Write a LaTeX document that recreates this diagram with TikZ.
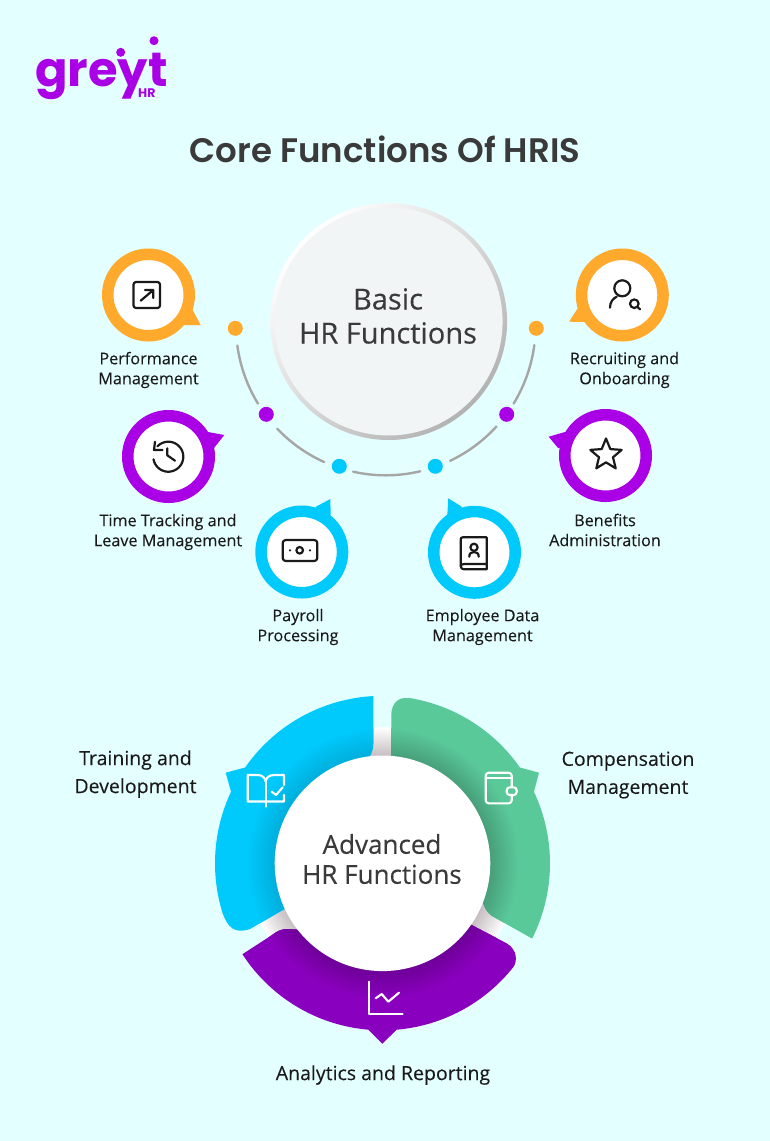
\documentclass[tikz,border=0pt]{standalone}
\usepackage{fontspec}
\setmainfont{Open Sans}
\newfontfamily\headfont{Open Sans}[FakeBold=0.25]
\newfontfamily\labelfont{Open Sans}[FakeBold=0.1]
\newfontfamily\titlefont{Poppins SemiBold}
\newfontfamily\logofont{Poppins}
\usetikzlibrary{shapes.geometric}
\definecolor{bgc}{HTML}{E3FFFF}
\definecolor{orangec}{HTML}{FFA92D}
\definecolor{violetc}{HTML}{A900E6}
\definecolor{cyanc}{HTML}{00C9FB}
\definecolor{greenc}{HTML}{5AC99A}
\definecolor{deepc}{HTML}{8A00BF}
\definecolor{inkc}{HTML}{1A1A1A}
\definecolor{headc}{HTML}{3A3A3A}
\definecolor{gapdark}{HTML}{C6BEC2}
\definecolor{cyandark}{HTML}{00AEDC}
\definecolor{greendark}{HTML}{479F7A}
\definecolor{deepdark}{HTML}{6E0098}
\pgfdeclareradialshading{gapshade}{\pgfpoint{0bp}{0bp}}{color(0bp)=(gapdark); color(19.8bp)=(gapdark); color(25bp)=(white); color(50bp)=(white)}
\pgfdeclareradialshading{cyanshade}{\pgfpoint{0bp}{0bp}}{color(0bp)=(cyandark); color(19.8bp)=(cyandark); color(25bp)=(cyanc); color(50bp)=(cyanc)}
\pgfdeclareradialshading{greenshade}{\pgfpoint{0bp}{0bp}}{color(0bp)=(greendark); color(19.8bp)=(greendark); color(25bp)=(greenc); color(50bp)=(greenc)}
\pgfdeclareradialshading{deepshade}{\pgfpoint{0bp}{0bp}}{color(0bp)=(deepdark); color(19.8bp)=(deepdark); color(25bp)=(deepc); color(50bp)=(deepc)}
\tikzset{
  badge/.style={circle,draw=#1,fill=white,line width=11.5pt,minimum size=81.5pt,inner sep=0pt},
  dotnode/.style={circle,fill=#1,minimum size=15pt,inner sep=0pt,outer sep=0pt},
  lab/.style={align=center,text=inkc,font=\labelfont\fontsize{16.2}{20}\selectfont,inner sep=0pt},
  biglab/.style={align=center,text=inkc,font=\labelfont\fontsize{19.5}{28}\selectfont,inner sep=0pt},
  icon/.style={draw=inkc,line width=2.2pt,line cap=round,line join=round},
  wicon/.style={draw=white,line width=2.1pt,line cap=round,line join=round},
  arcline/.style={draw=black!35,line width=2.4pt,line cap=round},
}
\def\cyansector{(373.3,696) -- plot[domain=266.9:214.9,samples=40] ({382.5+167.5*cos(\x)},{863.3+167.5*sin(\x)}) -- (225.7,772.7) -- plot[domain=205.3:162.7,samples=40] ({382.5+167.5*cos(\x)},{863.3+167.5*sin(\x)}) .. controls (228,928) and (235,934) .. (250,929) -- (300,900) -- (366,760) .. controls (370,757) and (373.3,752) .. (373.3,743) -- cycle}
\def\greensector{(391.3,760) -- (391.3,715) .. controls (391.3,703) and (399,696.5) .. (408.3,698.3) -- plot[domain=278.9:325.1,samples=40] ({382.5+167.5*cos(\x)},{863.3+167.5*sin(\x)}) -- (539,772.7) -- plot[domain=334.7:386.7,samples=40] ({382.5+167.5*cos(\x)},{863.3+167.5*sin(\x)}) -- (492,916) .. controls (488,913.5) and (485,909) .. (483,903) -- (440,800) -- cycle}
\def\deepsector{(242.3,954.3) -- plot[domain=147:94.9,samples=40] ({382.5+167*cos(\x)},{863.3+167*sin(\x)}) -- (382.3,1043.7) -- plot[domain=85.1:38.3,samples=40] ({382.5+167*cos(\x)},{863.3+167*sin(\x)}) .. controls (517,962) and (518,950) .. (506.7,943.3) -- (471.7,925) -- (382,880) -- (305,930) -- (288,929) .. controls (281,928.5) and (276,932) .. (272,935) -- cycle}
\begin{document}
\begin{tikzpicture}[x=1pt,y=-1pt]
\useasboundingbox (0,0) rectangle (770,1141);
\fill[bgc] (0,0) rectangle (770,1141);

% logo
\node[anchor=base west,inner sep=0pt,text=violetc,font=\logofont\fontsize{48}{48}\selectfont\bfseries] (logo) at (35,86) {greyt};
\node[anchor=base west,inner sep=0pt,text=violetc,font=\logofont\fontsize{12.5}{13}\selectfont\bfseries] (logohr) at (138,97.5) {HR};
\fill[violetc] (120.7,52.3) circle (4.5pt) (154,40.7) circle (4.5pt);

% title
\node[text=headc,font=\titlefont\fontsize{34}{36}\selectfont,inner sep=0pt] (title) at (385,149.5) {Core Functions Of HRIS};

% arc
\foreach \a/\b in {172.3/148.6,136.5/114.3,102.6/76.7,64.6/42.4,31.4/7.5}
  \draw[arcline] plot[domain=\a:\b,samples=30] ({385.8+149.8*cos(\x)},{325.5+149.8*sin(\x)});

% big circle
\node[circle,minimum size=237pt,inner sep=0pt,outer sep=0pt,top color=white,bottom color=black!30,shading angle=45] (basicrim) at (388.6,321.5) {};
\node[circle,minimum size=228pt,inner sep=0pt,outer sep=0pt,fill=black!4!white!98!cyan] (basic) at (388.6,321.5) {};
\node[align=center,text=headc,inner sep=0pt,font=\headfont\fontsize{29}{34}\selectfont] (basictext) at (388,316) {Basic\\HR Functions};

% dots
\node[dotnode=orangec] (d1) at (235.3,328.3) {};
\node[dotnode=violetc] (d2) at (266.3,414.3) {};
\node[dotnode=cyanc] (d3) at (339.3,466.3) {};
\node[dotnode=cyanc] (d4) at (435.3,466.3) {};
\node[dotnode=violetc] (d5) at (506.7,414.3) {};
\node[dotnode=orangec] (d6) at (536.3,328.3) {};

% badge tails
\fill[orangec] (192.7,310) -- (200.7,325) -- (183,325) -- (170,300) -- cycle;
\fill[orangec] (578,308) -- (569,321.7) -- (585,322) -- (600,300) -- cycle;
\fill[violetc] (208,432) -- (224.3,435) -- (214,448) -- (190,450) -- cycle;
\fill[violetc] (565,432) -- (548.7,436.7) -- (558,448) -- (580,450) -- cycle;
\fill[cyanc] (316,506.7) -- (330.3,499) -- (330.7,515) -- (310,530) -- cycle;
\fill[cyanc] (461.7,506.7) -- (448.3,498.3) -- (447.3,515) -- (465,530) -- cycle;

% badges
\node[badge=orangec] (perf) at (148.5,295) {};
\node[badge=orangec] (recr) at (622.3,295) {};
\node[badge=violetc] (time) at (168.5,456.5) {};
\node[badge=violetc] (bene) at (605.5,455.5) {};
\node[badge=cyanc] (payr) at (301.8,552) {};
\node[badge=cyanc] (empl) at (474.5,552.3) {};

% icon: performance
\draw[icon,rounded corners=2.5pt] (133.5,282) rectangle (160,308);
\draw[icon] (140.7,300.7) -- (153.3,290) (145,290) -- (153.3,290) -- (153.3,298);
% icon: recruiting
\draw[icon] (622.3,288.3) circle (8pt);
\draw[icon] (610,307.7) .. controls (610,302) and (613,298.5) .. (616.7,296.7);
\draw[icon] (634.3,303.7) circle (4.3pt);
\draw[icon] (637.5,307) -- (640,309.3);
% icon: time
\draw[icon] plot[domain=224:530,samples=60] ({168.3+15*cos(\x)},{456.7+15*sin(\x)});
\draw[icon] (155,441.7) -- (154,450) -- (162.5,450);
\draw[icon] (167.3,448.3) -- (167.3,455.3) -- (175,460.7);
% icon: star
\node[star,star points=5,star point ratio=2.25,draw=inkc,line width=2.2pt,line join=round,minimum size=33pt,inner sep=0pt] (staricon) at (606,455) {};
% icon: payroll
\draw[icon,rounded corners=3pt] (282.7,540) rectangle (317.3,561);
\draw[icon] (299.7,550.3) circle (3.3pt);
\fill[inkc] (290,550.3) circle (1.2pt) (310,550.3) circle (1.2pt);
% icon: employee
\draw[icon] (486.7,537.3) -- (463,537.3) .. controls (461.5,537.3) and (460.7,538) .. (460.7,539.5) -- (460.7,566) .. controls (460.7,568) and (462,569.3) .. (464,569.3) -- (486.7,569.3) -- cycle;
\draw[icon] (486.7,564) -- (464,564) .. controls (462,564) and (460.7,565) .. (460.7,566);
\draw[icon] (474,547.3) circle (3.6pt);
\draw[icon] (469.3,556.7) .. controls (469.3,553.5) and (471,552) .. (474,552) .. controls (477,552) and (478.7,553.5) .. (478.7,556.7);

% labels upper
\node[lab] (lperf) at (148.5,370) {Performance\\Management};
\node[lab] (lrecr) at (624.5,370) {Recruiting and\\Onboarding};
\node[lab] (ltime) at (168,532) {Time Tracking and\\Leave Management};
\node[lab] (lbene) at (605,530) {Benefits\\Administration};
\node[lab] (lpayr) at (298,627) {Payroll\\Processing};
\node[lab] (lempl) at (482.5,627) {Employee Data\\Management};

% lower wheel
\shade[shading=gapshade] (382.5,863.3) circle (136pt);
\fill[cyanc] \cyansector;
\fill[greenc] \greensector;
\fill[deepc] \deepsector;
\begin{scope}\clip \cyansector; \shade[shading=cyanshade] (382.5,863.3) circle (136pt); \end{scope}
\begin{scope}\clip \greensector; \shade[shading=greenshade] (382.5,863.3) circle (136pt); \end{scope}
\begin{scope}\clip \deepsector; \shade[shading=deepshade] (382.5,863.3) circle (136pt); \end{scope}
\node[circle,fill=white,minimum size=215.6pt,inner sep=0pt,outer sep=0pt] (adv) at (382.5,863.3) {};
\node[align=center,text=headc,inner sep=0pt,font=\headfont\fontsize{26}{30}\selectfont] (advtext) at (382,859) {Advanced\\HR Functions};

% icon: book
\draw[wicon] (284,785) -- (284,775) -- (274,775) .. controls (269,775) and (265.7,778) .. (265.7,782) .. controls (265.7,778) and (262,775) .. (258,775) -- (247.7,775) -- (247.7,801.5) -- (284,801.5) -- (284,795);
\draw[wicon] (265.7,782) -- (265.7,806.5);
\draw[wicon] (271.7,791.7) -- (276,795) -- (282.7,787.3);
% icon: wallet
\draw[wicon,rounded corners=3pt] (485.7,772.7) rectangle (511.7,803.3);
\draw[wicon] (485.7,778.3) -- (511.7,778.3);
\draw[wicon,fill=greenc,rounded corners=3pt] (506.7,787.3) rectangle (516.7,795);
% icon: chart
\draw[wicon] (369,981.7) -- (369,1014.3) -- (402.7,1014.3);
\draw[wicon] (375.7,998.3) -- (381.7,994) -- (388.3,1001.7) -- (399,992.7);

% labels lower
\node[biglab] (ltrain) at (135.5,774) {Training and\\Development};
\node[biglab] (lcomp) at (628,775) {Compensation\\Management};
\node[biglab] (lanal) at (383,1075) {Analytics and Reporting};
\end{tikzpicture}
\end{document}
